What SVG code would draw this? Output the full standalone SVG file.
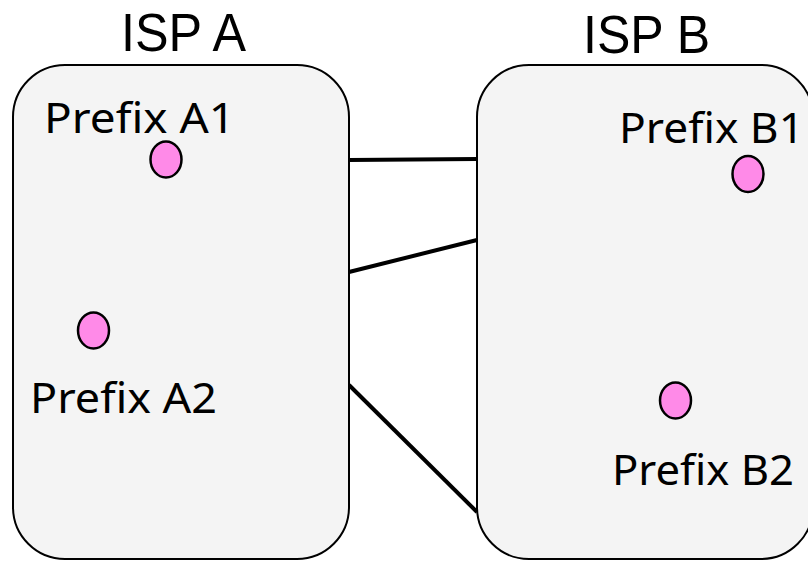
<svg xmlns="http://www.w3.org/2000/svg" width="808" height="561" viewBox="0 0 808 561">
<style>
.box{fill:#f4f4f4;stroke:#000;stroke-width:2}
.dot{fill:#ff8ae8;stroke:#000;stroke-width:2.5}
.t{font-family:"Noto Sans","Open Sans",sans-serif;fill:#000}
.title{font-family:"Liberation Sans",Arial,sans-serif;font-size:53px}
.lbl{font-size:42px}
.link{stroke:#000;stroke-width:4;fill:none}
</style>
<rect width="808" height="561" fill="#fff"/>
<g id="connectors">
<line class="link" x1="349" y1="160" x2="477" y2="159"/>
<line class="link" x1="349" y1="272" x2="477" y2="240"/>
<line class="link" x1="349" y1="385" x2="477" y2="512"/>
</g>
<g id="ispA">
<rect class="box" x="13" y="65" width="336" height="494" rx="52" ry="52"/>
<text class="t title" x="121" y="51" textLength="125" lengthAdjust="spacingAndGlyphs">ISP A</text>
</g>
<g id="ispB">
<rect class="box" x="477" y="65" width="336" height="494" rx="52" ry="52"/>
<text class="t title" x="583" y="53" textLength="127" lengthAdjust="spacingAndGlyphs">ISP B</text>
</g>
<g id="prefixA1">
<ellipse class="dot" cx="166" cy="159.5" rx="15.5" ry="18"/>
<text class="t lbl" x="44" y="133" textLength="191" lengthAdjust="spacingAndGlyphs">Prefix A1</text>
</g>
<g id="prefixA2">
<ellipse class="dot" cx="93.5" cy="330.5" rx="15.5" ry="18"/>
<text class="t lbl" x="30" y="413" textLength="187" lengthAdjust="spacingAndGlyphs">Prefix A2</text>
</g>
<g id="prefixB1">
<ellipse class="dot" cx="748" cy="174" rx="15.5" ry="18"/>
<text class="t lbl" x="619" y="143" textLength="185" lengthAdjust="spacingAndGlyphs">Prefix B1</text>
</g>
<g id="prefixB2">
<ellipse class="dot" cx="675.5" cy="400.5" rx="15.5" ry="18"/>
<text class="t lbl" x="612" y="485" textLength="182" lengthAdjust="spacingAndGlyphs">Prefix B2</text>
</g>
</svg>
